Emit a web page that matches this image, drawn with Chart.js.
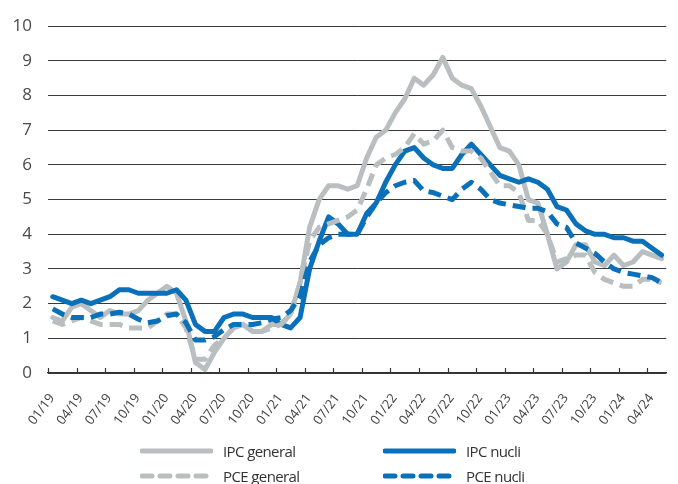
<!DOCTYPE html>
<html>
<head>
<meta charset="utf-8">
<script src="https://cdn.jsdelivr.net/npm/chart.js@4/dist/chart.umd.min.js"></script>
<style>
  html, body { margin: 0; padding: 0; background: #fff; }
  #wrap { position: relative; width: 678px; height: 484px; font-family: 'Open Sans', sans-serif; }
  #chart { position: absolute; left: 0; top: 0; }
  .leg { position: absolute; display: flex; align-items: center; font-size: 15px; color: #333; letter-spacing: -0.6px; white-space: nowrap; }
  .leg svg { margin-right: 10px; }
</style>
</head>
<body>
<div id="wrap">
  <canvas id="chart" width="678" height="484"></canvas>
  <div class="leg" style="left:140px; top:441px;"><svg width="73" height="8"><line x1="2" y1="4" x2="71" y2="4" stroke="#b9bec1" stroke-width="5" stroke-linecap="round"/></svg>IPC general</div>
  <div class="leg" style="left:383px; top:441px;"><svg width="73" height="8"><line x1="2" y1="4" x2="71" y2="4" stroke="#0a70b9" stroke-width="5" stroke-linecap="round"/></svg>IPC nucli</div>
  <div class="leg" style="left:140px; top:466px;"><svg width="73" height="8"><line x1="2" y1="4" x2="71" y2="4" stroke="#b9bec1" stroke-width="5" stroke-linecap="round" stroke-dasharray="10 8"/></svg>PCE general</div>
  <div class="leg" style="left:383px; top:466px;"><svg width="73" height="8"><line x1="2" y1="4" x2="71" y2="4" stroke="#0a70b9" stroke-width="5" stroke-linecap="round" stroke-dasharray="10 8"/></svg>PCE nucli</div>
</div>
<script>
// monthly series, 01/2019 .. 05/2024 (year-on-year %)
const tickLabels = ['01/19','04/19','07/19','10/19','01/20','04/20','07/20','10/20','01/21','04/21','07/21',
  '10/21','01/22','04/22','07/22','10/22','01/23','04/23','07/23','10/23','01/24','04/24'];

const ipcGeneral = [
  1.6, 1.5, 1.9, 2.0, 1.8, 1.6, 1.8, 1.7, 1.7, 1.8, 2.1, 2.3,
  2.5, 2.3, 1.5, 0.3, 0.1, 0.6, 1.0, 1.3, 1.4, 1.2, 1.2, 1.4,
  1.4, 1.7, 2.6, 4.2, 5.0, 5.4, 5.4, 5.3, 5.4, 6.2, 6.8, 7.0,
  7.5, 7.9, 8.5, 8.3, 8.6, 9.1, 8.5, 8.3, 8.2, 7.7, 7.1, 6.5,
  6.4, 6.0, 5.0, 4.9, 4.0, 3.0, 3.2, 3.7, 3.7, 3.2, 3.1, 3.4,
  3.1, 3.2, 3.5, 3.4, 3.3
];
const ipcNucli = [
  2.2, 2.1, 2.0, 2.1, 2.0, 2.1, 2.2, 2.4, 2.4, 2.3, 2.3, 2.3,
  2.3, 2.4, 2.1, 1.4, 1.2, 1.2, 1.6, 1.7, 1.7, 1.6, 1.6, 1.6,
  1.4, 1.3, 1.6, 3.0, 3.8, 4.5, 4.3, 4.0, 4.0, 4.6, 4.9, 5.5,
  6.0, 6.4, 6.5, 6.2, 6.0, 5.9, 5.9, 6.3, 6.6, 6.3, 6.0, 5.7,
  5.6, 5.5, 5.6, 5.5, 5.3, 4.8, 4.7, 4.3, 4.1, 4.0, 4.0, 3.9,
  3.9, 3.8, 3.8, 3.6, 3.4
];
const pceGeneral = [
  1.5, 1.4, 1.5, 1.6, 1.5, 1.4, 1.4, 1.4, 1.3, 1.3, 1.3, 1.5,
  1.7, 1.7, 1.3, 0.4, 0.4, 0.8, 1.0, 1.3, 1.4, 1.2, 1.2, 1.3,
  1.4, 1.7, 2.6, 3.8, 4.2, 4.3, 4.4, 4.5, 4.7, 5.3, 6.0, 6.2,
  6.3, 6.5, 6.9, 6.6, 6.7, 7.0, 6.5, 6.4, 6.4, 6.2, 5.8, 5.4,
  5.4, 5.2, 4.4, 4.4, 4.0, 3.2, 3.3, 3.4, 3.4, 2.9, 2.7, 2.6,
  2.5, 2.5, 2.7, 2.7, 2.6
];
const pceNucli = [
  1.85, 1.7, 1.6, 1.6, 1.6, 1.7, 1.7, 1.75, 1.7, 1.55, 1.45, 1.5,
  1.65, 1.7, 1.45, 0.95, 0.95, 1.05, 1.25, 1.4, 1.4, 1.4, 1.45, 1.55,
  1.6, 1.8, 2.2, 3.2, 3.7, 3.9, 4.0, 4.0, 4.0, 4.5, 4.9, 5.2,
  5.4, 5.5, 5.55, 5.25, 5.2, 5.1, 5.0, 5.3, 5.5, 5.3, 5.0, 4.9,
  4.85, 4.8, 4.75, 4.75, 4.65, 4.3, 4.2, 3.75, 3.6, 3.45, 3.2, 3.0,
  2.9, 2.85, 2.8, 2.75, 2.6
];

const GREY = '#b9bec1';
const BLUE = '#0a70b9';

// each month sits in the middle of its slot, ticks on the month boundaries
const toPoints = arr => arr.map((v, i) => ({ x: i + 0.5, y: v }));

function series(label, arr, color, dashed, order) {
  return {
    label: label,
    data: toPoints(arr),
    borderColor: color,
    backgroundColor: color,
    borderWidth: 5,
    borderDash: dashed ? [13, 7] : [],
    borderCapStyle: dashed ? 'butt' : 'round',
    borderJoinStyle: 'round',
    pointRadius: 0,
    tension: 0,
    order: order
  };
}

// small tick marks pointing up from the x axis
const upTicks = {
  id: 'upTicks',
  afterDraw(chart) {
    const xs = chart.scales.x;
    const ctx = chart.ctx;
    ctx.save();
    ctx.strokeStyle = '#333';
    ctx.lineWidth = 1.2;
    xs.ticks.forEach(t => {
      const px = Math.round(xs.getPixelForValue(t.value)) + 0.5;
      ctx.beginPath();
      ctx.moveTo(px, xs.top);
      ctx.lineTo(px, xs.top - 5);
      ctx.stroke();
    });
    ctx.restore();
  }
};

Chart.defaults.font.family = "'Open Sans', sans-serif";

new Chart(document.getElementById('chart').getContext('2d'), {
  type: 'line',
  data: {
    datasets: [
      series('IPC general', ipcGeneral, GREY, false, 4),
      series('IPC nucli', ipcNucli, BLUE, false, 3),
      series('PCE general', pceGeneral, GREY, true, 2),
      series('PCE nucli', pceNucli, BLUE, true, 1)
    ]
  },
  options: {
    responsive: false,
    animation: false,
    layout: { padding: { top: 20, right: 8, bottom: 51, left: 0 } },
    plugins: { legend: { display: false }, tooltip: { enabled: false } },
    scales: {
      x: {
        type: 'linear',
        min: 0,
        max: ipcGeneral.length,
        afterBuildTicks: s => { s.ticks = tickLabels.map((_, k) => ({ value: k * 3 })); },
        afterFit: s => { s.height = 60; },
        grid: { display: false, drawTicks: false },
        border: { display: true, color: '#333', width: 1.2 },
        ticks: {
          autoSkip: false,
          minRotation: 53,
          maxRotation: 53,
          padding: 18,
          labelOffset: 4,
          color: '#444',
          font: { size: 13 },
          callback: (v, i) => tickLabels[i]
        }
      },
      y: {
        min: 0,
        max: 10,
        afterFit: s => { s.width = 48; },
        ticks: { stepSize: 1, padding: 16, color: '#4a4a4a', font: { size: 17 } },
        grid: { color: '#3a3a3a', lineWidth: 1, drawTicks: false },
        border: { display: false }
      }
    }
  },
  plugins: [upTicks]
});
</script>
</body>
</html>
